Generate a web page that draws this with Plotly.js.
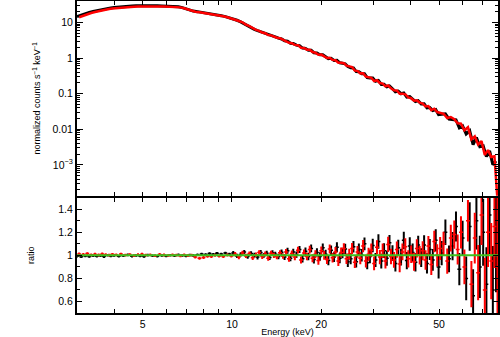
<!DOCTYPE html>
<html><head><meta charset="utf-8">
<script src="https://cdn.plot.ly/plotly-3.0.1.min.js"></script>
<style>html,body{margin:0;padding:0;background:#fff;}#chart{width:500px;height:337px;}</style>
</head><body><div id="chart"></div>
<script>
// bin centres, keV (black = FPMA, red = FPMB)
const energyBlack = [3.00,3.10,3.20,3.30,3.40,3.50,3.60,3.70,3.80,3.90,
4.00,4.15,4.30,4.45,4.60,4.75,4.90,5.05,5.20,5.40,
5.60,5.80,6.00,6.20,6.40,6.60,6.80,7.00,7.20,7.40,
7.65,7.90,8.15,8.40,8.65,8.90,9.20,9.50,9.80,10.1,
10.4,10.7,11.0,11.3,11.6,11.9,12.2,12.5,12.8,13.1,
13.4,13.7,14.0,14.35,14.7,15.05,15.4,15.75,16.1,16.5,
16.9,17.3,17.7,18.1,18.5,18.9,19.35,19.8,20.25,20.7,
21.15,21.6,22.1,22.6,23.1,23.6,24.1,24.6,25.15,25.7,
26.25,26.8,27.4,28.0,28.6,29.2,29.85,30.5,31.2,31.9,
32.6,33.3,34.0,34.8,35.6,36.4,37.2,38.0,38.9,39.8,
40.7,41.6,42.5,43.5,44.5,45.5,46.5,47.6,48.7,49.8,
51.0,52.5,54.0,55.5,57.0,58.5,60.0,61.7,63.4,65.1,
66.8,68.6,70.4,72.2,74.0,75.9,77.8];

const energyRed = [3.05,3.15,3.25,3.35,3.45,3.55,3.65,3.75,3.85,3.95,
4.07,4.22,4.37,4.52,4.67,4.82,4.97,5.12,5.30,5.50,
5.70,5.90,6.10,6.30,6.50,6.70,6.90,7.10,7.30,7.52,
7.77,8.02,8.27,8.52,8.77,9.05,9.35,9.65,9.95,10.25,
10.55,10.85,11.15,11.45,11.75,12.05,12.35,12.65,12.95,13.25,
13.55,13.85,14.17,14.52,14.87,15.22,15.57,15.92,16.3,16.7,
17.1,17.5,17.9,18.3,18.7,19.12,19.57,20.02,20.47,20.92,
21.37,21.85,22.35,22.85,23.35,23.85,24.35,24.87,25.42,25.97,
26.52,27.1,27.7,28.3,28.9,29.52,30.17,30.85,31.55,32.25,
32.95,33.65,34.4,35.2,36.0,36.8,37.6,38.45,39.35,40.25,
41.15,42.05,43.0,44.0,45.0,46.0,47.05,48.15,49.25,50.4,
51.75,53.25,54.75,56.25,57.75,59.25,60.85,62.55,64.25,65.95,
67.7,69.5,71.3,73.1,74.95,76.85,78.7];

// normalized counts s^-1 keV^-1
const countsBlack = [14.6,16.2,17.7,19.1,20.4,21.6,22.8,23.8,24.8,25.6,
26.3,27.2,28.0,28.5,28.9,29.2,29.4,29.5,29.5,29.4,
29.3,29.1,28.9,28.6,28.2,27.6,26.0,23.9,21.8,20.8,
20.1,19.3,18.7,18.0,17.3,16.4,15.5,14.6,13.5,12.7,
11.5,10.4,9.1,8.0,7.3,6.4,5.85,5.5,5.08,4.76,
4.38,4.19,3.93,3.63,3.44,
3.05,2.98,2.59,2.55,2.30,2.22,1.90,1.87,1.66,1.66,1.41,1.38,1.24,1.24,1.09,0.962,0.982,0.859,0.866,0.734,0.716,0.690,0.579,
0.531,0.527,0.416,0.415,0.361,0.363,0.282,0.275,0.275,0.222,0.235,0.182,0.183,0.156,0.164,0.137,0.113,0.118,0.0995,0.105,0.0804,0.0827,0.0715,0.0600,0.0635,
0.0515,0.0517,0.0400,0.0408,0.0336,0.0357,0.0257,0.0262,0.0271,0.0193,0.0184,0.0183,0.0110,0.0124,
0.00732,0.00900,0.00370,0.00588,0.00321,0.00340,0.00170,0.00246,0.00101,0.00128];

const countsRed = [14.0,15.6,17.0,18.4,19.6,20.8,21.9,22.9,23.8,24.6,
25.3,26.2,26.9,27.4,27.8,28.1,28.3,28.4,28.4,28.3,
28.2,28.0,27.8,27.5,27.1,26.5,25.0,23.0,21.0,20.0,
19.3,18.6,18.0,17.3,16.6,15.8,14.9,14.0,13.0,12.2,
11.0,10.1,8.65,7.9,6.8,6.2,5.8,5.2,4.96,4.44,
4.33,4.0,3.72,3.6,3.26,
3.07,2.68,2.60,2.34,2.30,1.95,1.92,1.72,1.70,1.47,1.41,1.24,1.25,1.12,1.00,1.02,0.886,0.863,0.739,0.742,0.716,0.610,0.595,
0.558,0.443,0.436,0.371,0.375,0.301,0.293,0.279,0.226,0.238,0.199,0.192,0.161,0.169,0.141,0.124,0.123,0.099,0.100,0.0958,0.0786,0.0744,0.0634,0.0650,0.0561,
0.0526,0.0438,0.0446,0.0344,0.0377,0.0304,0.0292,0.0272,0.0206,0.0220,0.0192,0.0147,0.0144,0.00936,
0.0114,0.00519,0.00629,0.00370,0.00463,0.00190,0.00260,0.00166,0.00174,0.0001];

// data / model ratio
const ratioBlack = [0.992,0.988,0.995,0.990,0.997,0.993,0.996,0.989,1.000,0.994,
0.998,0.992,0.996,1.004,0.993,0.999,0.995,0.991,1.002,0.996,
0.993,0.999,0.995,1.001,0.997,1.004,0.999,0.994,1.002,0.998,
1.006,1.012,1.008,1.015,1.010,1.018,1.012,1.020,1.011,
1.020,0.995,1.008,1.028,0.990,1.015,1.002,0.985,1.025,1.000,1.018,0.982,1.022,1.010,0.990,1.027,
0.985,1.040,0.975,1.030,1.005,1.050,0.970,1.035,0.990,1.060,0.965,1.025,0.990,1.065,1.010,0.955,1.045,0.985,1.070,0.975,1.020,1.055,0.945,
0.970,1.075,0.945,1.050,1.000,1.100,0.935,0.990,1.085,0.960,1.120,0.950,1.040,0.975,1.110,1.020,0.930,1.065,0.985,1.130,0.955,1.080,1.025,0.940,1.090,
0.980,1.090,0.930,1.050,0.960,1.130,0.900,1.020,1.200,0.970,1.080,1.250,0.880,1.150,
0.800,1.250,0.650,1.300,0.900,1.200,0.750,1.350,0.700,1.100];

const ratioRed = [1.012,1.008,1.015,1.005,1.010,1.003,1.012,1.006,1.001,1.009,
1.004,1.011,1.002,1.007,0.998,1.006,1.010,1.001,1.004,0.997,
1.008,1.003,0.999,1.005,1.001,0.996,1.004,0.998,1.002,0.985,
0.975,0.982,0.993,0.990,1.000,0.994,0.989,1.002,0.995,
1.010,0.985,1.020,0.995,1.015,0.980,1.005,1.025,0.990,1.012,0.975,1.018,1.000,0.988,1.022,0.993,
1.030,0.970,1.015,0.985,1.045,0.960,1.020,0.990,1.050,0.975,1.010,0.955,1.040,1.000,0.965,1.055,0.980,1.030,0.950,1.025,1.060,0.970,1.010,
1.060,0.940,1.030,0.975,1.080,0.950,1.010,1.045,0.930,1.070,0.985,1.040,0.950,1.095,0.990,0.960,1.050,0.925,1.030,1.075,0.970,1.010,0.945,1.060,1.000,
1.040,0.960,1.080,0.920,1.120,1.000,1.060,1.100,0.950,1.150,1.180,1.050,1.200,0.900,
1.300,0.750,1.150,0.850,1.350,0.700,1.200,0.950,1.250,0.900];

const errBlack = [0.011,0.011,0.011,0.011,0.011,0.011,0.011,0.011,0.011,0.011,
0.011,0.011,0.011,0.011,0.011,0.011,0.011,0.011,0.011,0.011,
0.011,0.011,0.011,0.011,0.011,0.011,0.011,0.011,0.011,0.011,
0.011,0.011,0.011,0.011,0.011,0.011,0.011,0.011,0.011,
0.018,0.018,0.019,0.019,0.019,0.020,0.020,0.020,0.021,0.021,0.021,0.022,0.022,0.022,0.023,0.023,
0.025,0.026,0.027,0.028,0.029,0.030,0.031,0.032,0.033,0.034,0.035,0.036,0.037,0.038,0.039,0.040,0.041,0.042,0.043,0.044,0.045,0.046,0.047,
0.048,0.050,0.051,0.052,0.054,0.055,0.056,0.058,0.059,0.060,0.062,0.063,0.064,0.066,0.067,0.068,0.070,0.071,0.072,0.074,0.075,0.076,0.078,0.079,0.080,
0.082,0.085,0.088,0.091,0.094,0.097,0.100,0.105,0.110,0.116,0.122,0.130,0.140,0.150,
0.190,0.210,0.230,0.250,0.270,0.290,0.320,0.340,0.380,0.420];

const errRed = [0.012,0.012,0.012,0.012,0.012,0.012,0.012,0.012,0.012,0.012,
0.012,0.012,0.012,0.012,0.012,0.012,0.012,0.012,0.012,0.012,
0.012,0.012,0.012,0.012,0.012,0.012,0.012,0.012,0.012,0.013,
0.013,0.013,0.013,0.013,0.013,0.013,0.013,0.013,0.013,
0.018,0.018,0.019,0.019,0.019,0.020,0.020,0.020,0.021,0.021,0.021,0.022,0.022,0.022,0.023,0.023,
0.025,0.026,0.027,0.028,0.029,0.030,0.031,0.032,0.033,0.034,0.035,0.036,0.037,0.038,0.039,0.040,0.041,0.042,0.043,0.044,0.045,0.046,0.047,
0.048,0.050,0.051,0.052,0.054,0.055,0.056,0.058,0.059,0.060,0.062,0.063,0.064,0.066,0.067,0.068,0.070,0.071,0.072,0.074,0.075,0.076,0.078,0.079,0.080,
0.082,0.085,0.088,0.091,0.094,0.097,0.100,0.105,0.110,0.116,0.122,0.130,0.140,0.150,
0.180,0.200,0.220,0.240,0.260,0.280,0.300,0.330,0.360,0.650];

const modelX = [3, 79];
const modelY = [1, 1];

const xTickVals = [5, 10, 20, 50];
const xTickText = ['5', '10', '20', '50'];
const xMinorVals = [3, 4, 6, 7, 8, 9, 30, 40, 60, 70];
const yTopTickVals = [0.001, 0.01, 0.1, 1, 10];
const yTopTickText = ['10<sup>\u22123</sup>', '0.01', '0.1', '1', '10'];
const yBotTickVals = [0.6, 0.8, 1, 1.2, 1.4];
const yBotTickText = ['0.6', '0.8', '1', '1.2', '1.4'];

const BLACK = '#000000', RED = '#ff0000', GREEN = '#3cc31e';

const traces = [
  {x: energyBlack, y: countsBlack, xaxis: 'x2', yaxis: 'y2', mode: 'lines',
   line: {color: BLACK, width: 3}, hoverinfo: 'skip'},
  {x: energyRed, y: countsRed, xaxis: 'x2', yaxis: 'y2', mode: 'lines',
   line: {color: RED, width: 2.5}, hoverinfo: 'skip'},
  {x: energyBlack, y: ratioBlack, xaxis: 'x', yaxis: 'y', mode: 'markers',
   marker: {size: 1.5, color: BLACK},
   error_y: {type: 'data', array: errBlack, color: BLACK, thickness: 2, width: 0},
   error_x: {type: 'percent', value: 1.5, color: BLACK, thickness: 1.5, width: 0}},
  {x: energyRed, y: ratioRed, xaxis: 'x', yaxis: 'y', mode: 'markers',
   marker: {size: 1.5, color: RED},
   error_y: {type: 'data', array: errRed, color: RED, thickness: 2, width: 0},
   error_x: {type: 'percent', value: 1.5, color: RED, thickness: 1.5, width: 0}},
  {x: modelX, y: modelY, xaxis: 'x', yaxis: 'y', mode: 'lines',
   line: {color: GREEN, width: 2}}
];

const axisCommon = {
  showline: true, linecolor: BLACK, linewidth: 2, mirror: 'allticks',
  ticks: 'inside', tickcolor: BLACK, tickwidth: 1, showgrid: false, zeroline: false
};
const xRange = [Math.log10(3), Math.log10(79)];
const split = 0.3728, half = 1 / 312;

const layout = {
  width: 500, height: 337,
  margin: {l: 77, r: 2, t: 1, b: 24},
  paper_bgcolor: '#ffffff', plot_bgcolor: '#ffffff',
  showlegend: false,
  font: {family: '"Liberation Sans", Arial, sans-serif', size: 10.5, color: BLACK},
  xaxis: Object.assign({}, axisCommon, {
    type: 'log', range: xRange, anchor: 'y',
    tickmode: 'array', tickvals: xTickVals, ticktext: xTickText, ticklen: 4,
    minor: {tickmode: 'array', tickvals: xMinorVals, ticks: 'inside', ticklen: 4, tickwidth: 1, tickcolor: BLACK},
    title: {text: 'Energy (keV)', font: {size: 9}, standoff: 2}
  }),
  xaxis2: Object.assign({}, axisCommon, {
    type: 'log', range: xRange, anchor: 'y2', matches: 'x', showticklabels: false,
    tickmode: 'array', tickvals: xTickVals, ticklen: 4,
    minor: {tickmode: 'array', tickvals: xMinorVals, ticks: 'inside', ticklen: 4, tickwidth: 1, tickcolor: BLACK}
  }),
  yaxis: Object.assign({}, axisCommon, {
    domain: [0, split - half], range: [0.5, 1.5], anchor: 'x',
    tickmode: 'array', tickvals: yBotTickVals, ticktext: yBotTickText, ticklen: 5,
    minor: {dtick: 0.1, tick0: 0.5, ticks: 'inside', ticklen: 3, tickwidth: 1, tickcolor: BLACK},
    title: {text: 'ratio', font: {size: 9}, standoff: 22}
  }),
  yaxis2: Object.assign({}, axisCommon, {
    domain: [split + half, 1], type: 'log', range: [Math.log10(1.36e-4), Math.log10(40)], anchor: 'x2',
    tickmode: 'array', tickvals: yTopTickVals, ticktext: yTopTickText, ticklen: 6,
    minor: {dtick: 'D1', ticks: 'inside', ticklen: 3, tickwidth: 1, tickcolor: BLACK},
    title: {text: 'normalized counts s<sup>\u22121</sup> keV<sup>\u22121</sup>', font: {size: 9}, standoff: 10}
  })
};

Plotly.newPlot('chart', traces, layout, {staticPlot: true, displayModeBar: false});
</script>
</body></html>
